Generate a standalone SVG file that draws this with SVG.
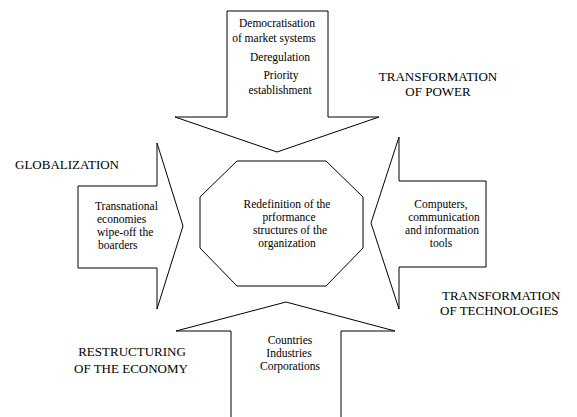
<svg xmlns="http://www.w3.org/2000/svg" width="577" height="417" viewBox="0 0 577 417">
<style>
.shape{fill:#fff;stroke:#000;stroke-width:1}
text{fill:#000;font-family:"Liberation Serif","Times New Roman",serif}
.t{font-size:11.5px}
.c{text-anchor:middle}
.lbl{font-size:13px}
</style>
<rect width="577" height="417" fill="#fff"/>
<g id="connectors">
<g id="arrow-top">
<polygon class="shape" points="227,11 328,11 328,117 379,117 277,152 175,117 227,117"/>
<text class="t c" x="277" y="27">Democratisation</text>
<text class="t c" x="274" y="42">of market systems</text>
<text class="t c" x="280" y="61">Deregulation</text>
<text class="t c" x="281" y="79">Priority</text>
<text class="t c" x="280" y="94">establishment</text>
</g>
<g id="arrow-left">
<polygon class="shape" points="78,186 157,186 157,143 183,226 157,309 157,268 78,268"/>
<text class="t" x="95" y="210">Transnational</text>
<text class="t" x="97" y="223">economies</text>
<text class="t" x="97" y="236">wipe-off the</text>
<text class="t" x="98" y="249">boarders</text>
</g>
<g id="arrow-right">
<polygon class="shape" points="486,181 399,181 399,137 371,223 399,309 399,267 486,267"/>
<text class="t c" x="441" y="208">Computers,</text>
<text class="t c" x="444" y="221">communication</text>
<text class="t c" x="442" y="234">and information</text>
<text class="t c" x="441" y="247">tools</text>
</g>
<g id="arrow-bottom">
<polygon class="shape" points="231,418 231,331 176,331 286,302 395,331 341,331 341,418"/>
<text class="t c" x="290" y="344">Countries</text>
<text class="t c" x="289" y="357">Industries</text>
<text class="t c" x="290" y="370">Corporations</text>
</g>
</g>
<g id="center">
<polygon class="shape" points="237,161 326,161 363,197 363,248 326,286 237,286 200,248 200,197"/>
<text class="t c" x="287" y="208">Redefinition of the</text>
<text class="t c" x="289" y="221">prformance</text>
<text class="t c" x="290" y="234">structures of the</text>
<text class="t c" x="287" y="247">organization</text>
</g>
<g id="label-power">
<text class="lbl c" x="438" y="81">TRANSFORMATION</text>
<text class="lbl c" x="438" y="96">OF POWER</text>
</g>
<g id="label-globalization">
<text class="lbl" x="15" y="169">GLOBALIZATION</text>
</g>
<g id="label-technologies">
<text class="lbl" x="442" y="300">TRANSFORMATION</text>
<text class="lbl" x="440" y="315">OF TECHNOLOGIES</text>
</g>
<g id="label-economy">
<text class="lbl c" x="132" y="356">RESTRUCTURING</text>
<text class="lbl c" x="131" y="373">OF THE ECONOMY</text>
</g>
</svg>
